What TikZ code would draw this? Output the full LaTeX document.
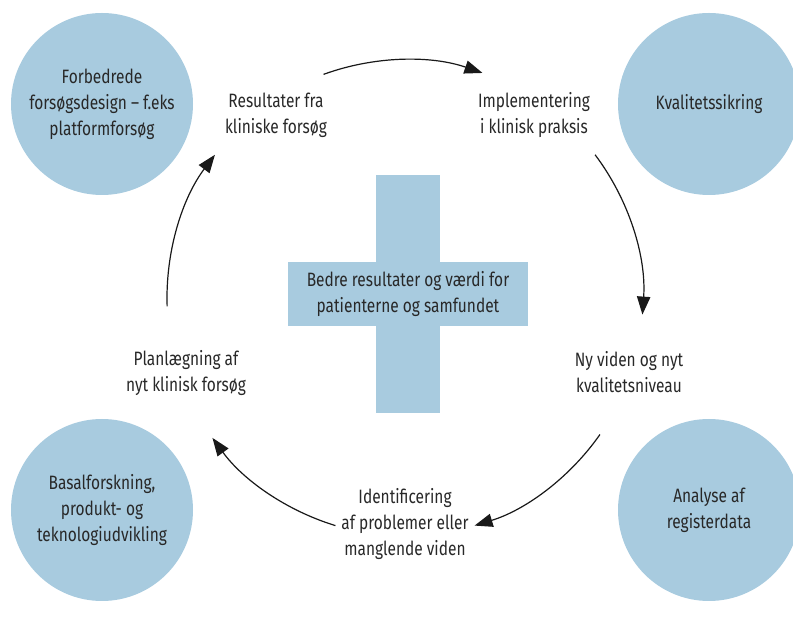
\documentclass[tikz,border=0pt]{standalone}
\usepackage{fontspec}
\setmainfont{Fira Sans}[FakeStretch=0.8]
\usepackage{xcolor}
\usetikzlibrary{arrows.meta, calc}
\definecolor{cycleblue}{RGB}{168,203,223}
\definecolor{cycletext}{RGB}{40,40,40}

\begin{document}
\begin{tikzpicture}[
    x=0.75pt, y=0.75pt,
    font=\fontsize{14.5}{19.5}\selectfont,
    topic/.style={circle, fill=cycleblue, minimum size=136.5pt, inner sep=0pt,
        align=center, text=cycletext},
    phase/.style={align=center, text=cycletext},
    bar/.style={rectangle, fill=cycleblue, inner sep=0pt},
    arrow/.style={-{Triangle[length=13.5pt, width=10pt]}, line width=0.9pt, draw=black!90}
]
\useasboundingbox (0,0) rectangle (793,621);
\clip (0,0) rectangle (793,621);

% Corner topics
\node[topic] (design) at (102,517) {Forbedrede\\forsøgsdesign – f.eks\\platformforsøg};
\node[topic] (quality) at (709,517) {Kvalitetssikring};
\node[topic] (basic) at (102,111) {Basalforskning,\\produkt- og\\teknologiudvikling};
\node[topic] (registry) at (709,111) {Analyse af\\registerdata};

% Central cross
\node[bar, minimum width=48pt, minimum height=179pt] (crossv) at (408,327) {};
\node[bar, minimum width=180pt, minimum height=48pt, align=center, text=cycletext]
    (goal) at (408,327) {Bedre resultater og værdi for\\patienterne og samfundet};

% Cycle phases
\node[phase] (results) at (276,506) {Resultater fra\\kliniske forsøg};
\node[phase] (implement) at (534,506) {Implementering\\i klinisk praksis};
\node[phase] (knowledge) at (629,249) {Ny viden og nyt\\kvalitetsniveau};
\node[phase] (problems) at (405,97) {Identificering\\af problemer eller\\manglende viden};
\node[phase] (planning) at (186,248) {Planlægning af\\nyt klinisk forsøg};

% Ring of arrows
\coordinate (ring) at (405,323);
\coordinate (a1) at ($(ring)+(110:238)$);
\coordinate (a2) at ($(ring)+(37:238)$);
\coordinate (a3) at ($(ring)+(-35:238)$);
\coordinate (a4) at ($(ring)+(-107:238)$);
\coordinate (a5) at ($(ring)+(182:238)$);

\draw[arrow] (a1) arc[start angle=110, end angle=71, radius=238];
\draw[arrow] (a2) arc[start angle=37, end angle=-4, radius=238];
\draw[arrow] (a3) arc[start angle=-35, end angle=-73, radius=238];
\draw[arrow] (a4) arc[start angle=-107, end angle=-144, radius=238];
\draw[arrow] (a5) arc[start angle=182, end angle=143, radius=238];

\end{tikzpicture}
\end{document}
